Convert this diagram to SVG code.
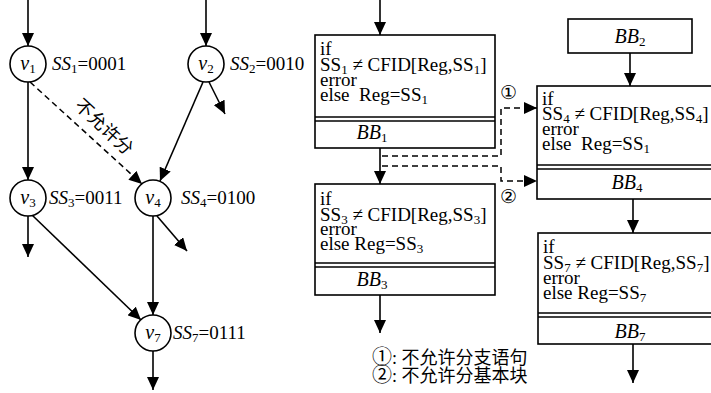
<svg xmlns="http://www.w3.org/2000/svg" width="711" height="393" viewBox="0 0 711 393">
  <style>
    .ln { stroke: #000; stroke-width: 1.6; fill: none; }
    .dash { stroke: #000; stroke-width: 1.5; fill: none; stroke-dasharray: 6 4; }
    .node { stroke: #000; stroke-width: 1.6; fill: #fff; }
    .box { stroke: #000; stroke-width: 1.6; fill: #fff; }
    .t { font-family: "Liberation Serif", "Times New Roman", serif; font-size: 19px; fill: #000; }
    .bb { font-family: "Liberation Serif", "Times New Roman", serif; font-size: 20px; font-style: italic; fill: #000; }
    .lbl { font-family: "Liberation Serif", "Times New Roman", serif; font-size: 19px; fill: #000; }
    .vn { font-family: "Liberation Serif", "Times New Roman", serif; font-size: 20px; fill: #000; }
    .it { font-style: italic; }
    .sub { font-size: 13px; font-style: normal; }
    .cjk { font-family: "Liberation Serif", "Noto Sans CJK SC", serif; font-size: 18px; fill: #000; }
  </style>
  <defs>
    <marker id="ah" markerWidth="13" markerHeight="12" refX="13" refY="6" orient="auto" markerUnits="userSpaceOnUse">
      <path d="M0,0 L13,6 L0,12 z" fill="#000"/>
    </marker>
  </defs>

  <!-- connectors -->
  <g id="connectors">
    <!-- left graph -->
    <line class="ln" x1="28" y1="0" x2="28" y2="46" marker-end="url(#ah)"/>
    <line class="ln" x1="206" y1="0" x2="206" y2="46" marker-end="url(#ah)"/>
    <line class="ln" x1="28" y1="82" x2="28" y2="180" marker-end="url(#ah)"/>
    <line class="dash" x1="30" y1="82" x2="142" y2="184" marker-end="url(#ah)"/>
    <line class="ln" x1="203" y1="82" x2="160" y2="181" marker-end="url(#ah)"/>
    <line class="ln" x1="209" y1="82" x2="225" y2="114" marker-end="url(#ah)"/>
    <line class="ln" x1="28" y1="216" x2="28" y2="257" marker-end="url(#ah)"/>
    <line class="ln" x1="32" y1="215" x2="141" y2="320" marker-end="url(#ah)"/>
    <line class="ln" x1="157" y1="216" x2="187" y2="251" marker-end="url(#ah)"/>
    <line class="ln" x1="153" y1="216" x2="153" y2="315" marker-end="url(#ah)"/>
    <line class="ln" x1="153" y1="351" x2="153" y2="390" marker-end="url(#ah)"/>
    <text class="cjk" transform="translate(104,127) rotate(43)" text-anchor="middle" y="6">不允许分</text>

    <!-- right graph -->
    <line class="ln" x1="380" y1="0" x2="380" y2="35" marker-end="url(#ah)"/>
    <line class="ln" x1="380" y1="148" x2="380" y2="184" marker-end="url(#ah)"/>
    <line class="ln" x1="380" y1="295" x2="380" y2="333" marker-end="url(#ah)"/>
    <line class="ln" x1="630" y1="53" x2="630" y2="86" marker-end="url(#ah)"/>
    <line class="ln" x1="633" y1="199" x2="633" y2="233" marker-end="url(#ah)"/>
    <line class="ln" x1="633" y1="344" x2="633" y2="383" marker-end="url(#ah)"/>
    <path class="dash" d="M382,156 H501 V108 H537" marker-end="url(#ah)"/>
    <path class="dash" d="M382,166 H501 V181 H537" marker-end="url(#ah)"/>
    <text class="lbl" x="508" y="99" text-anchor="middle" font-size="20">①</text>
    <text class="lbl" x="508" y="203" text-anchor="middle" font-size="20">②</text>
  </g>

  <!-- CFG nodes -->
  <g id="v1">
    <circle class="node" cx="28" cy="64" r="18"/>
    <text class="vn" x="28" y="70" text-anchor="middle"><tspan class="it">v</tspan><tspan class="sub" dy="3">1</tspan></text>
    <text class="lbl" x="52" y="70"><tspan class="it">SS</tspan><tspan class="sub" dy="3">1</tspan><tspan dy="-3">=0001</tspan></text>
  </g>
  <g id="v2">
    <circle class="node" cx="206" cy="64" r="18"/>
    <text class="vn" x="206" y="70" text-anchor="middle"><tspan class="it">v</tspan><tspan class="sub" dy="3">2</tspan></text>
    <text class="lbl" x="230" y="70"><tspan class="it">SS</tspan><tspan class="sub" dy="3">2</tspan><tspan dy="-3">=0010</tspan></text>
  </g>
  <g id="v3">
    <circle class="node" cx="28" cy="198" r="18"/>
    <text class="vn" x="28" y="204" text-anchor="middle"><tspan class="it">v</tspan><tspan class="sub" dy="3">3</tspan></text>
    <text class="lbl" x="49" y="204"><tspan class="it">SS</tspan><tspan class="sub" dy="3">3</tspan><tspan dy="-3">=0011</tspan></text>
  </g>
  <g id="v4">
    <circle class="node" cx="153" cy="198" r="18"/>
    <text class="vn" x="153" y="204" text-anchor="middle"><tspan class="it">v</tspan><tspan class="sub" dy="3">4</tspan></text>
    <text class="lbl" x="181" y="204"><tspan class="it">SS</tspan><tspan class="sub" dy="3">4</tspan><tspan dy="-3">=0100</tspan></text>
  </g>
  <g id="v7">
    <circle class="node" cx="153" cy="333" r="18"/>
    <text class="vn" x="153" y="339" text-anchor="middle"><tspan class="it">v</tspan><tspan class="sub" dy="3">7</tspan></text>
    <text class="lbl" x="173" y="339"><tspan class="it">SS</tspan><tspan class="sub" dy="3">7</tspan><tspan dy="-3">=0111</tspan></text>
  </g>

  <!-- basic blocks -->
  <g id="BB1">
    <rect class="box" x="315" y="35" width="180" height="113"/>
    <line class="ln" x1="315" y1="117" x2="495" y2="117"/>
    <line class="ln" x1="315" y1="121" x2="495" y2="121"/>
    <text class="t"><tspan x="320" y="55">if</tspan><tspan x="320" y="71">SS</tspan><tspan class="sub" dy="3">1</tspan><tspan dy="-3"> ≠ CFID[Reg,SS</tspan><tspan class="sub" dy="3">1</tspan><tspan dy="-3">]</tspan><tspan x="320" y="86">error</tspan><tspan x="320" y="101">else&#160; Reg=SS</tspan><tspan class="sub" dy="3">1</tspan></text>
    <text class="bb" x="372" y="139" text-anchor="middle">BB<tspan class="sub" dy="3">1</tspan></text>
  </g>
  <g id="BB2">
    <rect class="box" x="568" y="19" width="124" height="34"/>
    <text class="bb" x="630" y="43" text-anchor="middle">BB<tspan class="sub" dy="3">2</tspan></text>
  </g>
  <g id="BB3">
    <rect class="box" x="315" y="184" width="180" height="111"/>
    <line class="ln" x1="315" y1="263" x2="495" y2="263"/>
    <line class="ln" x1="315" y1="267" x2="495" y2="267"/>
    <text class="t"><tspan x="320" y="205">if</tspan><tspan x="320" y="221">SS</tspan><tspan class="sub" dy="3">3</tspan><tspan dy="-3"> ≠ CFID[Reg,SS</tspan><tspan class="sub" dy="3">3</tspan><tspan dy="-3">]</tspan><tspan x="320" y="235">error</tspan><tspan x="320" y="250">else Reg=SS</tspan><tspan class="sub" dy="3">3</tspan></text>
    <text class="bb" x="372" y="286" text-anchor="middle">BB<tspan class="sub" dy="3">3</tspan></text>
  </g>
  <g id="BB4">
    <rect class="box" x="537" y="86" width="190" height="113"/>
    <line class="ln" x1="537" y1="165" x2="727" y2="165"/>
    <line class="ln" x1="537" y1="169" x2="727" y2="169"/>
    <text class="t"><tspan x="542" y="105">if</tspan><tspan x="542" y="120">SS</tspan><tspan class="sub" dy="3">4</tspan><tspan dy="-3"> ≠ CFID[Reg,SS</tspan><tspan class="sub" dy="3">4</tspan><tspan dy="-3">]</tspan><tspan x="542" y="135">error</tspan><tspan x="542" y="150">else&#160; Reg=SS</tspan><tspan class="sub" dy="3">1</tspan></text>
    <text class="bb" x="627" y="189" text-anchor="middle">BB<tspan class="sub" dy="3">4</tspan></text>
  </g>
  <g id="BB7">
    <rect class="box" x="538" y="233" width="190" height="111"/>
    <line class="ln" x1="538" y1="313" x2="728" y2="313"/>
    <line class="ln" x1="538" y1="317" x2="728" y2="317"/>
    <text class="t"><tspan x="543" y="253">if</tspan><tspan x="543" y="269">SS</tspan><tspan class="sub" dy="3">7</tspan><tspan dy="-3"> ≠ CFID[Reg,SS</tspan><tspan class="sub" dy="3">7</tspan><tspan dy="-3">]</tspan><tspan x="543" y="284">error</tspan><tspan x="543" y="299">else Reg=SS</tspan><tspan class="sub" dy="3">7</tspan></text>
    <text class="bb" x="630" y="338" text-anchor="middle">BB<tspan class="sub" dy="3">7</tspan></text>
  </g>

  <!-- legend -->
  <g id="legend">
    <text class="cjk" x="372" y="364"><tspan font-size="20">①</tspan>: 不允许分支语句</text>
    <text class="cjk" x="372" y="382"><tspan font-size="20">②</tspan>: 不允许分基本块</text>
  </g>
</svg>
